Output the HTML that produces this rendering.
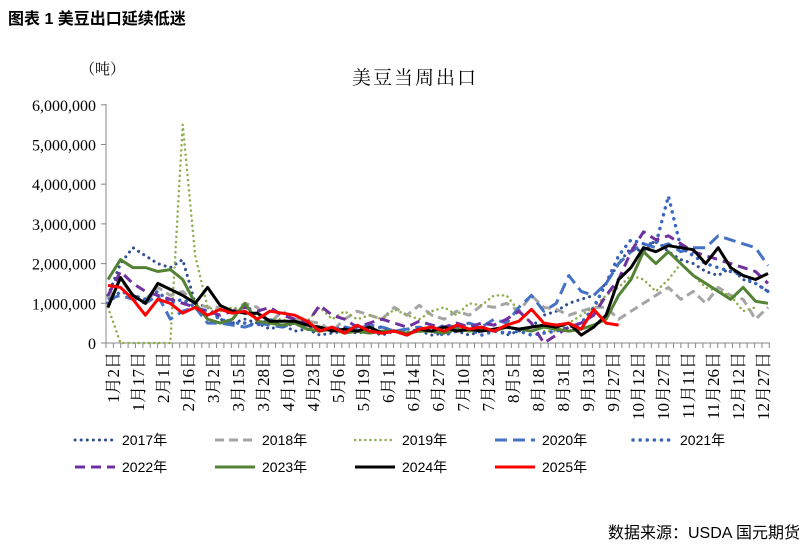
<!DOCTYPE html>
<html><head><meta charset="utf-8"><style>
body{margin:0;background:#fff;width:805px;height:547px;overflow:hidden;font-family:"Liberation Sans","Noto Sans CJK SC",sans-serif}
</style></head><body>
<svg id="s" width="805" height="547" xmlns="http://www.w3.org/2000/svg">
<text x="8" y="24" font-size="16" font-weight="bold" font-family="Liberation Sans,Noto Sans CJK SC,sans-serif">图表 1 美豆出口延续低迷</text>
<text x="80" y="74" font-size="15" font-family="Liberation Serif,Noto Serif CJK SC,serif">（吨）</text>
<text x="415" y="84" font-size="19" text-anchor="middle" font-family="Liberation Serif,Noto Serif CJK SC,serif" letter-spacing="2">美豆当周出口</text>
<text x="800" y="538" font-size="16" text-anchor="end" font-family="Liberation Sans,Noto Sans CJK SC,sans-serif">数据来源：USDA 国元期货</text>
<g id="ax"></g><g id="ser"></g><g id="leg"></g>
</svg>
<script>
const NS="http://www.w3.org/2000/svg",s=document.getElementById('s');
function el(t,a,p,txt){const e=document.createElementNS(NS,t);for(const k in a)e.setAttribute(k,a[k]);if(txt!==undefined)e.textContent=txt;(p||s).appendChild(e);return e;}
const ax=document.getElementById('ax'),X0=106,X1=770,Y0=343,YS=39.7;
el('line',{x1:X0,y1:104,x2:X0,y2:Y0,stroke:'#888'},ax);
el('line',{x1:X0,y1:Y0,x2:X1,y2:Y0,stroke:'#888'},ax);
for(let i=0;i<=6;i++){const y=Y0-i*YS;el('line',{x1:X0-5,y1:y,x2:X0,y2:y,stroke:'#888'},ax);
el('text',{x:96,y:y+6,'font-size':16,'text-anchor':'end','font-family':'Liberation Serif,serif'},ax,i==0?'0':(i+',000,000'));}
for(let x=X0;x<=X1;x+=7.37)el('line',{x1:x,y1:Y0,x2:x,y2:Y0+5,stroke:'#888'},ax);
const L=['1月2日','1月17日','2月1日','2月16日','3月2日','3月15日','3月28日','4月10日','4月23日','5月6日','5月19日','6月1日','6月14日','6月27日','7月10日','7月23日','8月5日','8月18日','8月31日','9月13日','9月27日','10月12日','10月27日','11月11日','11月26日','12月12日','12月27日'];
L.forEach((t,i)=>{const x=113+i*25+6;el('text',{x:0,y:0,'font-size':17,'text-anchor':'end',transform:`translate(${x},352) rotate(-90)`,'font-family':'Liberation Serif,Noto Serif CJK SC,serif'},ax,t);});
const D={
'2017':[1.2,2.0,2.4,2.2,2.0,1.9,2.1,1.0,0.9,0.6,0.5,0.6,0.5,0.35,0.45,0.3,0.35,0.2,0.25,0.3,0.25,0.3,0.2,0.3,0.35,0.3,0.2,0.25,0.3,0.2,0.3,0.35,0.2,0.3,0.4,0.7,0.8,1.0,1.1,1.2,1.5,2.0,2.4,2.3,2.6,2.3,2.1,2.0,1.8,1.7,1.9,1.6,1.5,1.3],
'2018':[1.1,1.6,1.2,1.1,1.4,1.2,1.3,1.0,0.9,0.9,0.8,1.0,0.9,0.5,0.8,0.6,0.55,0.5,0.3,0.6,0.8,0.7,0.6,0.9,0.7,0.95,0.7,0.6,0.8,0.7,0.95,0.9,1.0,0.8,1.2,0.9,0.85,0.7,0.8,0.9,0.9,0.6,0.8,1.0,1.2,1.4,1.1,1.3,1.0,1.4,1.2,1.1,0.6,0.9],
'2019':[0.9,0,0,0,0,0,5.5,2.2,0.9,0.8,0.9,0.8,0.7,0.6,0.6,0.5,0.55,0.9,0.6,0.8,0.6,0.7,0.6,0.85,0.7,0.6,0.8,0.9,0.7,1.0,0.95,1.2,1.2,0.8,0.5,0.3,0.3,0.5,0.7,0.9,1.2,1.4,1.7,1.6,1.3,1.6,2.0,1.7,1.4,1.3,1.2,0.8,0.9],
'2020':[1.1,1.2,1.1,1.0,1.2,0.6,0.8,0.9,0.5,0.5,0.45,0.4,0.5,0.45,0.4,0.5,0.35,0.3,0.35,0.4,0.35,0.45,0.4,0.3,0.35,0.4,0.3,0.45,0.4,0.5,0.4,0.6,0.5,0.9,1.2,0.8,1.0,1.7,1.3,1.2,1.5,2.0,2.3,2.5,2.4,2.5,2.3,2.4,2.4,2.7,2.6,2.5,2.4,1.95],
'2021':[1.0,1.3,1.2,1.1,1.3,1.0,1.1,0.9,0.8,0.6,0.5,0.5,0.45,0.6,0.4,0.5,0.4,0.35,0.3,0.4,0.3,0.35,0.4,0.3,0.25,0.35,0.3,0.2,0.3,0.35,0.2,0.3,0.25,0.3,0.2,0.25,0.3,0.4,0.5,0.9,1.5,2.2,2.6,2.5,2.5,3.7,2.4,2.2,2.0,1.9,1.8,1.7,1.5,1.3],
'2022':[1.2,1.8,1.5,1.3,1.2,1.1,1.0,0.9,0.8,0.7,0.8,0.9,0.8,0.9,0.7,0.6,0.5,0.95,0.7,0.6,0.4,0.5,0.6,0.5,0.4,0.55,0.45,0.4,0.5,0.4,0.5,0.45,0.6,0.8,0.5,0.0,0.2,0.4,0.5,0.7,1.2,1.6,2.3,2.8,2.6,2.7,2.5,2.3,2.2,2.1,2.0,1.9,1.8,1.5],
'2023':[1.6,2.1,1.9,1.9,1.8,1.85,1.6,1.0,0.6,0.5,0.6,1.0,0.55,0.5,0.45,0.5,0.35,0.3,0.35,0.25,0.3,0.25,0.3,0.3,0.25,0.3,0.3,0.25,0.35,0.3,0.35,0.3,0.4,0.35,0.3,0.4,0.35,0.3,0.35,0.45,0.6,1.2,1.6,2.3,2.0,2.3,2.0,1.7,1.5,1.3,1.1,1.4,1.05,1.0],
'2024':[0.9,1.65,1.2,1.0,1.5,1.35,1.2,1.0,1.4,0.95,0.8,0.75,0.75,0.55,0.55,0.55,0.45,0.4,0.3,0.35,0.3,0.4,0.25,0.3,0.2,0.35,0.3,0.4,0.3,0.35,0.3,0.35,0.4,0.35,0.4,0.45,0.4,0.5,0.2,0.4,0.7,1.6,1.9,2.4,2.3,2.45,2.4,2.35,2.0,2.4,1.9,1.7,1.6,1.75],
'2025':[1.45,1.4,1.1,0.7,1.1,1.0,0.75,0.9,0.7,0.85,0.75,0.8,0.6,0.8,0.75,0.7,0.55,0.3,0.4,0.25,0.45,0.3,0.25,0.3,0.2,0.35,0.4,0.3,0.45,0.35,0.4,0.3,0.45,0.55,0.85,0.5,0.45,0.5,0.35,0.85,0.5,0.45]};
const ST={
'2017':{c:'#2f4f8f',w:3,d:'0.1 6',cap:'round'},
'2018':{c:'#a5a5a5',w:3,d:'9 5'},
'2019':{c:'#8fae4f',w:2.5,d:'0.1 5',cap:'round'},
'2020':{c:'#4472c4',w:3,d:'12 6'},
'2021':{c:'#3a66c0',w:3.5,d:'0.1 7',cap:'round'},
'2022':{c:'#7030a0',w:3,d:'10 6'},
'2023':{c:'#548235',w:3,d:''},
'2024':{c:'#000',w:3,d:''},
'2025':{c:'#ff0000',w:3,d:''}};
const g=document.getElementById('ser'),step=660/53;
for(const k in D){const p=D[k].map((v,i)=>(108+i*step).toFixed(1)+','+(Y0-v*YS).toFixed(1)).join(' ');const st=ST[k];
el('polyline',{points:p,fill:'none',stroke:st.c,'stroke-width':st.w,'stroke-dasharray':st.d,'stroke-linecap':st.cap||'butt','stroke-linejoin':'round'},g);}
const lg=document.getElementById('leg');
const pos=[['2017',75,440],['2018',215,440],['2019',355,440],['2020',495,440],['2021',633,440],['2022',75,467],['2023',215,467],['2024',355,467],['2025',495,467]];
pos.forEach(([k,x,y])=>{const st=ST[k];el('line',{x1:x,y1:y,x2:x+40,y2:y,stroke:st.c,'stroke-width':st.w,'stroke-dasharray':st.d,'stroke-linecap':st.cap||'butt'},lg);
el('text',{x:x+47,y:y+5,'font-size':14},lg,k+'年');});
</script>
</body></html>
